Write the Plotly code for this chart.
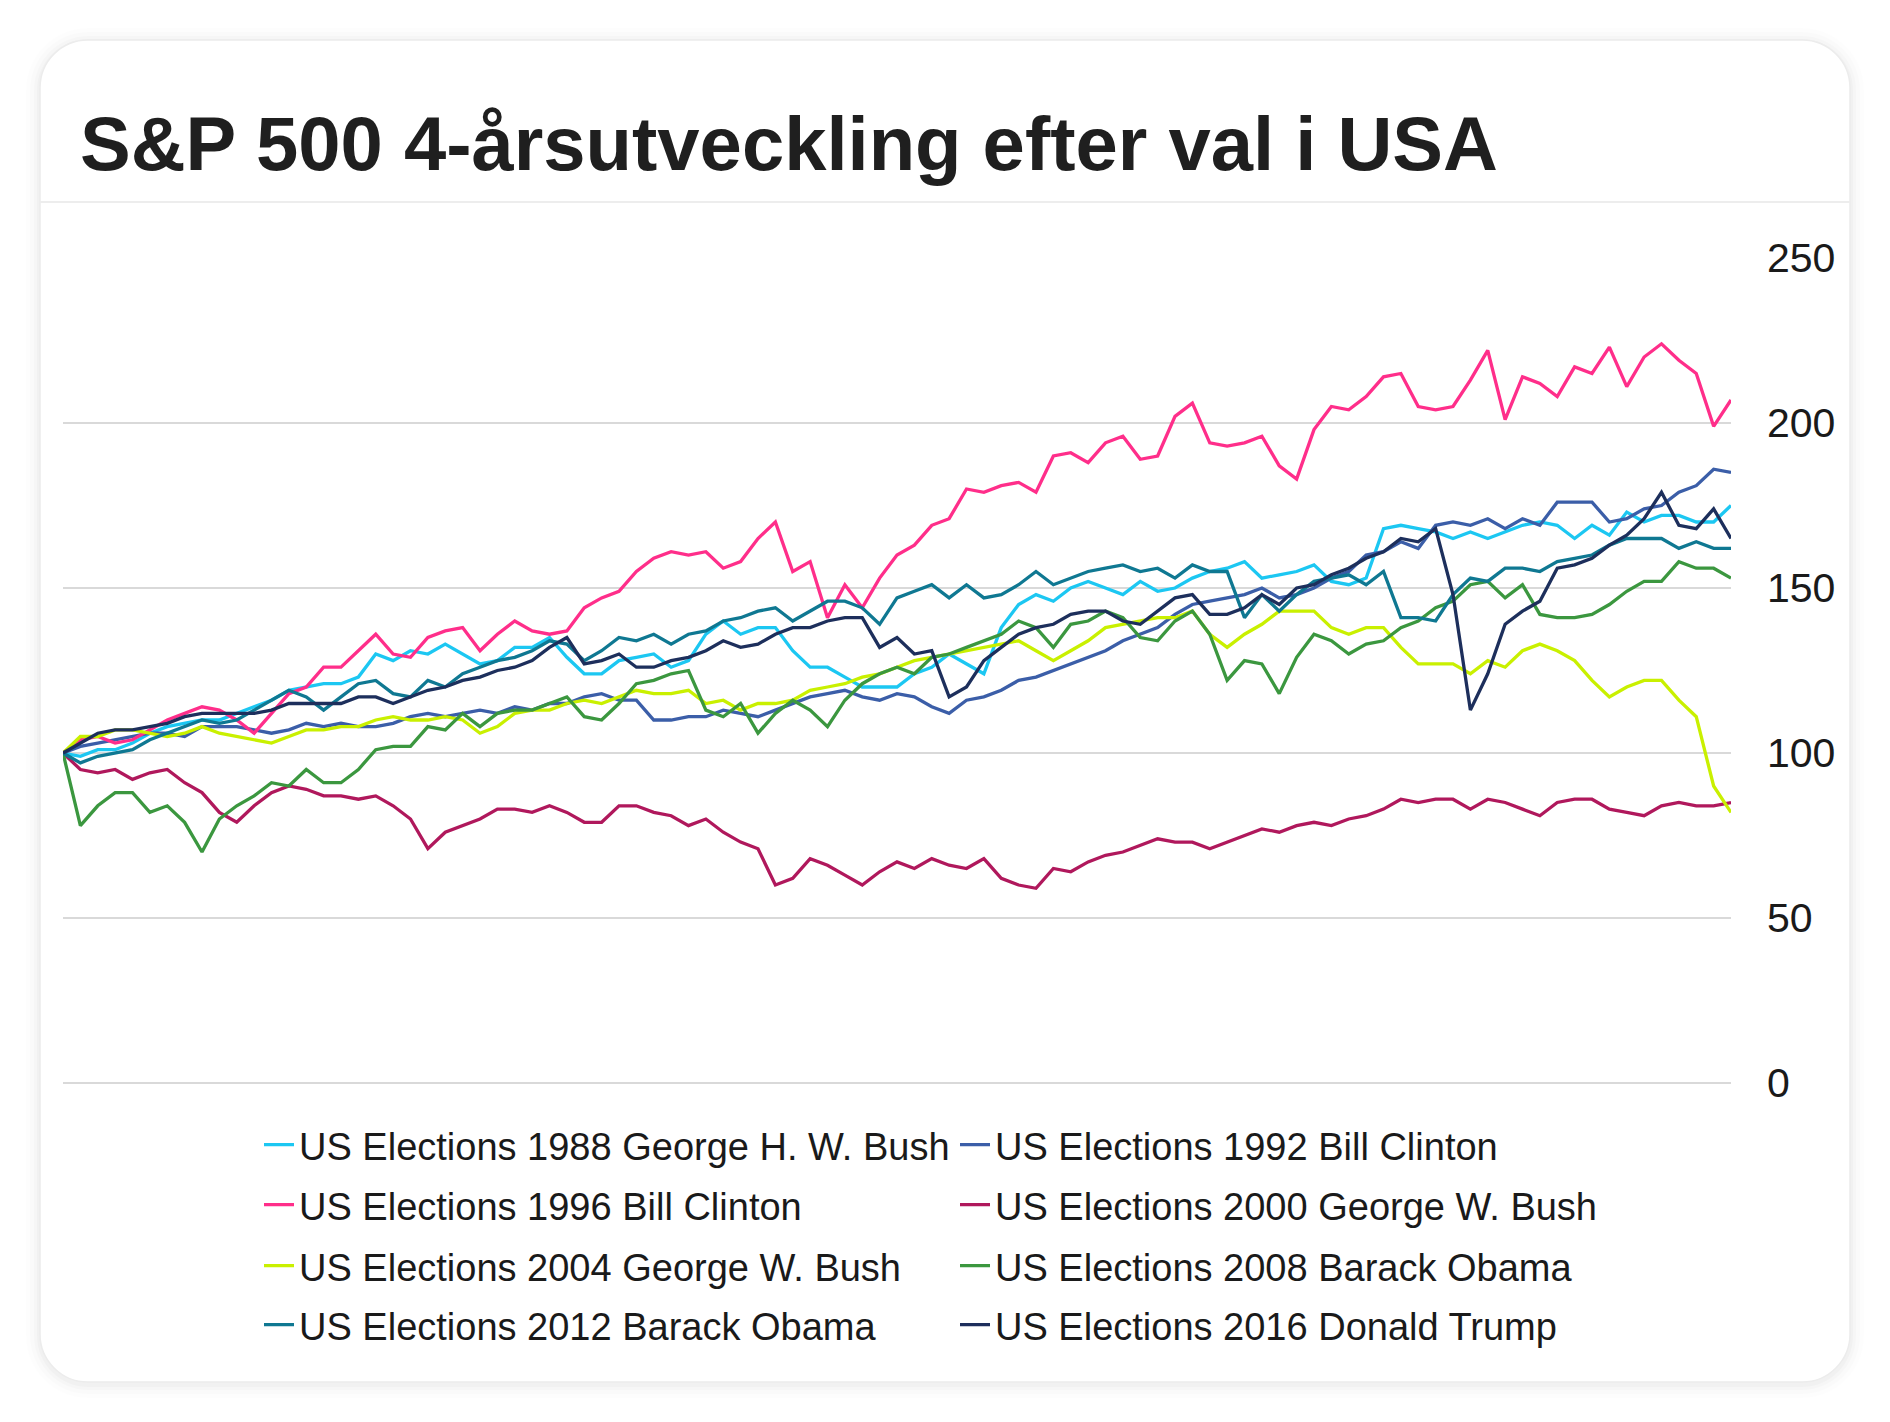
import plotly.graph_objects as go

# ---------------- data (index = half-month since election day, 4 years) ----------------
half_month = list(range(97))

series_names = [
    "US Elections 1988 George H. W. Bush",
    "US Elections 1992 Bill Clinton",
    "US Elections 1996 Bill Clinton",
    "US Elections 2000 George W. Bush",
    "US Elections 2004 George W. Bush",
    "US Elections 2008 Barack Obama",
    "US Elections 2012 Barack Obama",
    "US Elections 2016 Donald Trump",
]

series_colors = ["#1cc7f2", "#3b5ea8", "#ff2e8a", "#b0185c",
                 "#c9f000", "#3b973f", "#0f7892", "#1d2f5c"]

bush_1988 = [100, 99, 101, 101, 103, 106, 108, 109, 110, 110, 112, 114, 116, 119, 120, 121,
             121, 123, 130, 128, 131, 130, 133, 130, 127, 128, 132, 132, 135, 129, 124, 124, 128,
             129, 130, 126, 128, 136, 140, 136, 138, 138, 131, 126, 126, 123, 120, 120, 120,
             124, 126, 130, 127, 124, 138, 145, 148, 146, 150, 152, 150, 148, 152, 149, 150,
             153, 155, 156, 158, 153, 154, 155, 157, 152, 151, 153, 168, 169, 168, 167, 165,
             167, 165, 167, 169, 170, 169, 165, 169, 166, 173, 170, 172, 172, 170, 170, 175]

clinton_1992 = [100, 102, 103, 104, 105, 106, 106, 105, 108, 108, 108, 107, 106, 107, 109, 108,
                109, 108, 108, 109, 111, 112, 111, 112, 113, 112, 114, 113, 115, 115, 117, 118, 116,
                116, 110, 110, 111, 111, 113, 112, 111, 113, 115, 117, 118, 119, 117, 116, 118,
                117, 114, 112, 116, 117, 119, 122, 123, 125, 127, 129, 131, 134, 136, 138, 142,
                145, 146, 147, 148, 150, 147, 148, 150, 153, 155, 160, 161, 164, 162, 169, 170,
                169, 171, 168, 171, 169, 176, 176, 176, 170, 171, 174, 175, 179, 181, 186, 185]

clinton_1996 = [100, 104, 105, 103, 104, 107, 110, 112, 114, 113, 110, 106, 112, 118, 120, 126,
                126, 131, 136, 130, 129, 135, 137, 138, 131, 136, 140, 137, 136, 137, 144, 147, 149,
                155, 159, 161, 160, 161, 156, 158, 165, 170, 155, 158, 141, 151, 144, 153, 160,
                163, 169, 171, 180, 179, 181, 182, 179, 190, 191, 188, 194, 196, 189, 190, 202,
                206, 194, 193, 194, 196, 187, 183, 198, 205, 204, 208, 214, 215, 205, 204, 205,
                213, 222, 201, 214, 212, 208, 217, 215, 223, 211, 220, 224, 219, 215, 199, 207]

bush_2000 = [100, 95, 94, 95, 92, 94, 95, 91, 88, 82, 79, 84, 88, 90, 89, 87,
             87, 86, 87, 84, 80, 71, 76, 78, 80, 83, 83, 82, 84, 82, 79, 79, 84,
             84, 82, 81, 78, 80, 76, 73, 71, 60, 62, 68, 66, 63, 60, 64, 67,
             65, 68, 66, 65, 68, 62, 60, 59, 65, 64, 67, 69, 70, 72, 74, 73,
             73, 71, 73, 75, 77, 76, 78, 79, 78, 80, 81, 83, 86, 85, 86, 86,
             83, 86, 85, 83, 81, 85, 86, 86, 83, 82, 81, 84, 85, 84, 84, 85]

bush_2004 = [100, 105, 105, 107, 107, 106, 105, 106, 108, 106, 105, 104, 103, 105, 107, 107,
             108, 108, 110, 111, 110, 110, 111, 110, 106, 108, 112, 113, 113, 115, 116, 115, 117,
             119, 118, 118, 119, 115, 116, 113, 115, 115, 116, 119, 120, 121, 123, 124, 126,
             128, 129, 130, 131, 132, 133, 134, 131, 128, 131, 134, 138, 139, 140, 141, 141,
             143, 136, 132, 136, 139, 143, 143, 143, 138, 136, 138, 138, 132, 127, 127, 127,
             124, 128, 126, 131, 133, 131, 128, 122, 117, 120, 122, 122, 116, 111, 90, 82]

obama_2008 = [100, 78, 84, 88, 88, 82, 84, 79, 70, 80, 84, 87, 91, 90, 95, 91,
              91, 95, 101, 102, 102, 108, 107, 112, 108, 112, 113, 113, 115, 117, 111, 110, 115,
              121, 122, 124, 125, 113, 111, 115, 106, 112, 116, 113, 108, 116, 121, 124, 126,
              124, 129, 130, 132, 134, 136, 140, 138, 132, 139, 140, 143, 141, 135, 134, 140,
              143, 136, 122, 128, 127, 118, 129, 136, 134, 130, 133, 134, 138, 140, 144, 146,
              151, 152, 147, 151, 142, 141, 141, 142, 145, 149, 152, 152, 158, 156, 156, 153]

obama_2012 = [100, 97, 99, 100, 101, 104, 106, 108, 110, 109, 110, 113, 116, 119, 117, 113,
              117, 121, 122, 118, 117, 122, 120, 124, 126, 128, 129, 131, 134, 133, 128, 131, 135,
              134, 136, 133, 136, 137, 140, 141, 143, 144, 140, 143, 146, 146, 144, 139, 147,
              149, 151, 147, 151, 147, 148, 151, 155, 151, 153, 155, 156, 157, 155, 156, 153,
              157, 155, 155, 141, 148, 143, 148, 152, 153, 154, 151, 155, 141, 141, 140, 148,
              153, 152, 156, 156, 155, 158, 159, 160, 163, 165, 165, 165, 162, 164, 162, 162]

trump_2016 = [100, 103, 106, 107, 107, 108, 109, 111, 112, 112, 112, 112, 113, 115, 115, 115,
              115, 117, 117, 115, 117, 119, 120, 122, 123, 125, 126, 128, 132, 135, 127, 128, 130,
              126, 126, 128, 129, 131, 134, 132, 133, 136, 138, 138, 140, 141, 141, 132, 135,
              130, 131, 117, 120, 128, 132, 136, 138, 139, 142, 143, 143, 140, 139, 143, 147,
              148, 142, 142, 144, 148, 145, 150, 151, 154, 156, 159, 161, 165, 164, 168, 148,
              113, 124, 139, 143, 146, 156, 157, 159, 163, 166, 171, 179, 169, 168, 174, 165]

series_values = [bush_1988, clinton_1992, clinton_1996, bush_2000,
                 bush_2004, obama_2008, obama_2012, trump_2016]

y_ticks = [0, 50, 100, 150, 200, 250]
title_text = "S&P 500 4-årsutveckling efter val i USA"

# ---------------- geometry (pixels) ----------------
W, H = 1890, 1422
PL, PR, PT, PB = 63, 1731, 258, 1083
FONT = "Liberation Sans, Arial, Helvetica, sans-serif"
INK = "#1a1a1a"


def fx(px):
    return (px - PL) / (PR - PL)


def fy(py):
    return (PB - py) / (PB - PT)


def rounded_path(x0, y0, x1, y1, r):
    k = 0.5523 * r
    pts = [
        f"M{fx(x0 + r)},{fy(y0)}",
        f"L{fx(x1 - r)},{fy(y0)}",
        f"C{fx(x1 - r + k)},{fy(y0)} {fx(x1)},{fy(y0 + r - k)} {fx(x1)},{fy(y0 + r)}",
        f"L{fx(x1)},{fy(y1 - r)}",
        f"C{fx(x1)},{fy(y1 - r + k)} {fx(x1 - r + k)},{fy(y1)} {fx(x1 - r)},{fy(y1)}",
        f"L{fx(x0 + r)},{fy(y1)}",
        f"C{fx(x0 + r - k)},{fy(y1)} {fx(x0)},{fy(y1 - r + k)} {fx(x0)},{fy(y1 - r)}",
        f"L{fx(x0)},{fy(y0 + r)}",
        f"C{fx(x0)},{fy(y0 + r - k)} {fx(x0 + r - k)},{fy(y0)} {fx(x0 + r)},{fy(y0)}",
        "Z",
    ]
    return " ".join(pts)


CARD = (40, 40, 1850, 1382)
shapes = []
for grow, alpha in [(14, 0.008), (10, 0.010), (6, 0.014), (3, 0.018)]:
    shapes.append(dict(type="path", xref="paper", yref="paper", layer="below",
                       path=rounded_path(CARD[0] - grow, CARD[1] - grow + 2,
                                         CARD[2] + grow, CARD[3] + grow + 2, 48 + grow),
                       fillcolor=f"rgba(0,0,0,{alpha})", line=dict(width=0)))
shapes.append(dict(type="path", xref="paper", yref="paper", layer="below",
                   path=rounded_path(*CARD, 48), fillcolor="#ffffff",
                   line=dict(color="#ececec", width=1.5)))
shapes.append(dict(type="line", xref="paper", yref="paper", layer="below",
                   x0=fx(CARD[0]), x1=fx(CARD[2]), y0=fy(202), y1=fy(202),
                   line=dict(color="#ededed", width=2)))

fig = go.Figure()
legend_keys = []
for i, (name, vals, col) in enumerate(zip(series_names, series_values, series_colors)):
    key = "legend" if i == 0 else f"legend{i + 1}"
    legend_keys.append(key)
    fig.add_trace(go.Scatter(x=half_month, y=vals, mode="lines", name=name,
                             line=dict(color=col, width=3.3), legend=key,
                             hoverinfo="skip"))

legend_cols = [259, 955]
legend_rows = [1145, 1205, 1266, 1325]
legend_layout = {}
for i, key in enumerate(legend_keys):
    cx = legend_cols[i % 2]
    cy = legend_rows[i // 2]
    legend_layout[key] = dict(xref="container", yref="container",
                              x=cx / W, y=1 - cy / H, xanchor="left", yanchor="middle",
                              bgcolor="rgba(0,0,0,0)", borderwidth=0,
                              font=dict(family=FONT, size=38, color=INK),
                              itemwidth=30, tracegroupgap=0)

fig.update_layout(
    width=W, height=H,
    margin=dict(l=PL, r=W - PR, t=PT, b=H - PB, pad=0, autoexpand=False),
    paper_bgcolor="#ffffff", plot_bgcolor="rgba(0,0,0,0)",
    showlegend=True,
    shapes=shapes,
    title=dict(text=f"<b>{title_text}</b>", xref="container", yref="container",
               x=80 / W, xanchor="left", y=1 - 143 / H, yanchor="middle",
               font=dict(family=FONT, size=76, color="#1f1f1f"), automargin=False),
    xaxis=dict(range=[0, 96], showgrid=False, zeroline=False, showticklabels=False,
               showline=False, ticks="", automargin=False),
    yaxis=dict(range=[0, 250], side="right", tickvals=y_ticks,
               ticktext=[str(v) for v in y_ticks],
               showgrid=True, gridcolor="#d9d9d9", gridwidth=2,
               zeroline=True, zerolinecolor="#d9d9d9", zerolinewidth=2,
               showline=False, ticks="", ticklabelstandoff=35, automargin=False,
               tickfont=dict(family=FONT, size=41, color=INK)),
    **legend_layout,
)

fig.write_html("out.html")
